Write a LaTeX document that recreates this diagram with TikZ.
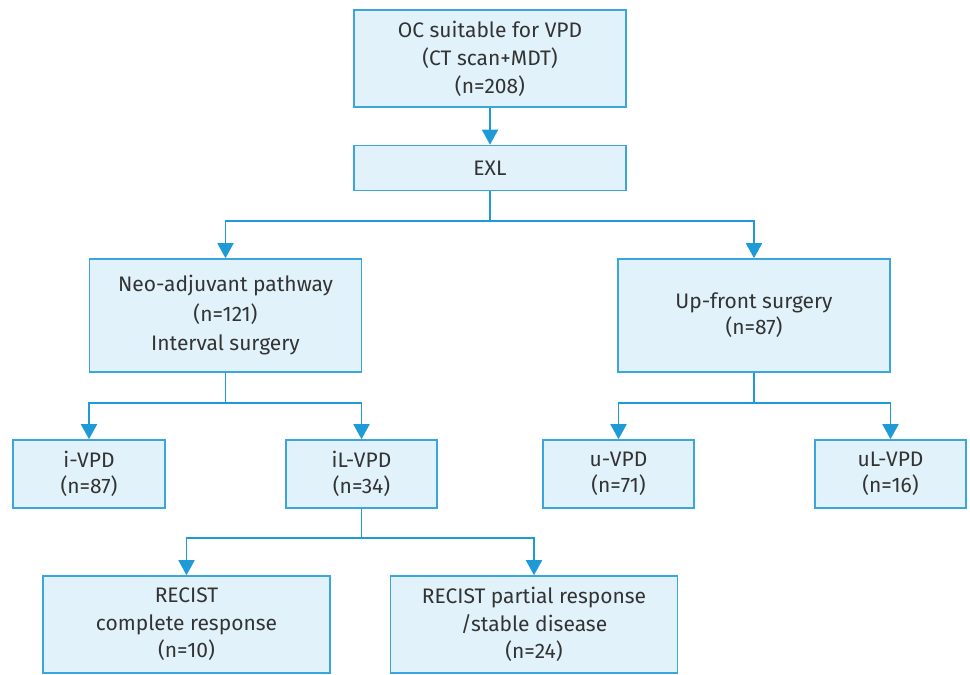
\documentclass[tikz,border=0pt]{standalone}
\usepackage{fontspec}
\setmainfont{Fira Sans}
\usetikzlibrary{arrows.meta}
\definecolor{bordc}{HTML}{3AA6DD}
\definecolor{fillc}{HTML}{E1F2FA}
\definecolor{linec}{HTML}{1E9AD6}
\definecolor{textc}{HTML}{333333}
\tikzset{
  box/.style={draw=bordc, fill=fillc, line width=1.6pt, text=textc, align=center,
    inner sep=0pt, font=\fontsize{21}{28}\selectfont},
  conn/.style={draw=linec, line width=1.8pt},
  arr/.style={conn, -{Triangle[width=16pt,length=15pt]}},
}
\begin{document}
\begin{tikzpicture}[x=1pt,y=-1pt]
\useasboundingbox (0,0) rectangle (970,675);
\node[box, minimum width=272pt, minimum height=97pt] (top) at (490,58.5) {OC suitable for VPD\\(CT scan+MDT)\\(n=208)};
\node[box, minimum width=272pt, minimum height=45pt] (exl) at (490,168) {EXL};
\node[box, minimum width=272pt, minimum height=113pt, font=\fontsize{21}{29.5}\selectfont] (neo) at (225.5,315.5) {Neo-adjuvant pathway\\(n=121)\\Interval surgery};
\node[box, minimum width=272pt, minimum height=113pt, font=\fontsize{21}{26}\selectfont] (up) at (754,315.5) {Up-front surgery\\(n=87)};
\node[box, minimum width=152pt, minimum height=68pt, font=\fontsize{21}{26}\selectfont] (ivpd) at (89,474) {i-VPD\\(n=87)};
\node[box, minimum width=151pt, minimum height=68pt, font=\fontsize{21}{26}\selectfont] (ilvpd) at (361.5,474) {iL-VPD\\(n=34)};
\node[box, minimum width=151pt, minimum height=68pt, font=\fontsize{21}{26}\selectfont] (uvpd) at (618.5,474) {u-VPD\\(n=71)};
\node[box, minimum width=151pt, minimum height=68pt, font=\fontsize{21}{26}\selectfont] (ulvpd) at (890.5,474) {uL-VPD\\(n=16)};
\node[box, minimum width=287pt, minimum height=97pt, font=\fontsize{21}{27.5}\selectfont] (rc) at (186.5,624.5) {RECIST\\complete response\\(n=10)};
\node[box, minimum width=287pt, minimum height=97pt, font=\fontsize{21}{27.5}\selectfont] (rp) at (534,624.5) {RECIST partial response\\/stable disease\\(n=24)};
\coordinate (j1) at (490,221);
\coordinate (j2) at (225.5,403);
\coordinate (j3) at (754,403);
\coordinate (j4) at (361.5,538);
\draw[arr] (top.south) -- (exl.north);
\draw[conn] (exl.south) -- (j1);
\draw[arr] (j1) -| (neo.north);
\draw[arr] (j1) -| (up.north);
\draw[conn] (neo.south) -- (j2);
\draw[arr] (j2) -| (ivpd.north);
\draw[arr] (j2) -| (ilvpd.north);
\draw[conn] (up.south) -- (j3);
\draw[arr] (j3) -| (uvpd.north);
\draw[arr] (j3) -| (ulvpd.north);
\draw[conn] (ilvpd.south) -- (j4);
\draw[arr] (j4) -| (rc.north);
\draw[arr] (j4) -| (rp.north);
\end{tikzpicture}
\end{document}
